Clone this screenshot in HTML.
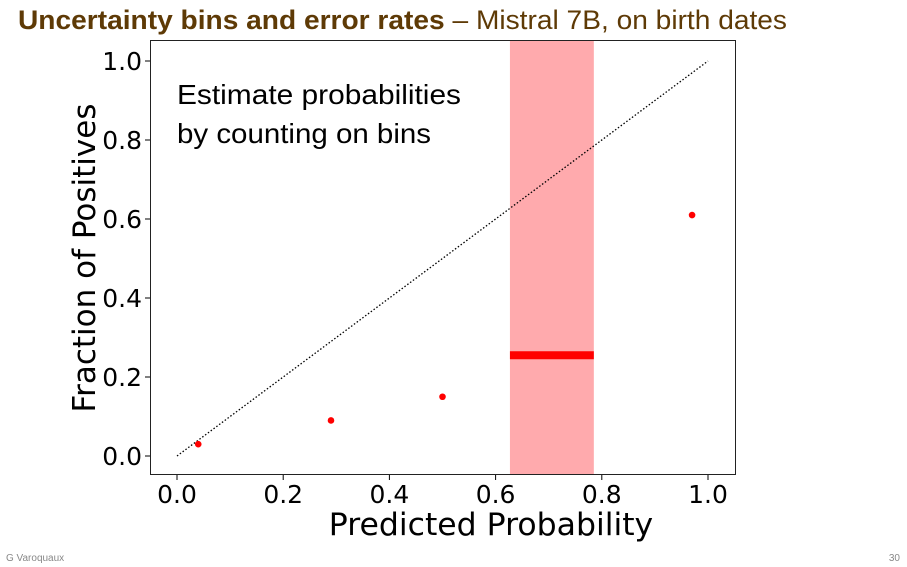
<!DOCTYPE html>
<html><head><meta charset="utf-8"><style>
body{margin:0;background:#fff;}
svg{display:block;font-family:"DejaVu Sans",sans-serif;}
</style></head><body>
<svg width="907" height="567" viewBox="0 0 907 567">
<text x="18" y="29" font-family="Liberation Sans, sans-serif" font-size="27" fill="#5e3a06" textLength="769" lengthAdjust="spacingAndGlyphs"><tspan font-weight="bold">Uncertainty bins and error rates</tspan> – Mistral 7B, on birth dates</text>
<g id="chart"></g>
<text x="6" y="561" font-family="Liberation Sans, sans-serif" font-size="10" fill="#888">G Varoquaux</text>
<text x="900" y="561" text-anchor="end" font-family="Liberation Sans, sans-serif" font-size="10" fill="#888">30</text>
</svg>
<script>
const xTicks=[0,0.2,0.4,0.6,0.8,1.0];
const yTicks=[0,0.2,0.4,0.6,0.8,1.0];
const binX=[0.04,0.29,0.5,0.97];
const binY=[0.03,0.09,0.15,0.61];
const highlightBin=[0.627,0.785];
const highlightY=[0.255];
const NS='http://www.w3.org/2000/svg';
const g=document.getElementById('chart');
const X=v=>177+v*531, Y=v=>456-v*395;
function mk(t,a,p){const e=document.createElementNS(NS,t);for(const k in a)e.setAttribute(k,a[k]);(p||g).appendChild(e);return e;}
let band=mk('rect',{x:X(highlightBin[0]),y:41,width:X(highlightBin[1])-X(highlightBin[0]),height:434,fill:'#ffaaad'});


let diag=mk('line',{x1:X(0),y1:Y(0),x2:X(1),y2:Y(1),stroke:'#000','stroke-width':1.3,'stroke-dasharray':'1.5 2'});


let hb=mk('line',{x1:X(highlightBin[0]),y1:Y(highlightY[0]),x2:X(highlightBin[1]),y2:Y(highlightY[0]),stroke:'#f00','stroke-width':8});


binX.forEach((v,i)=>{let c=mk('circle',{cx:X(v),cy:Y(binY[i]),r:3.3,fill:'#f00'});

});
let fr=mk('rect',{x:150.5,y:40.5,width:585,height:434,fill:'none',stroke:'#222','stroke-width':1});


xTicks.forEach(v=>{mk('line',{x1:X(v),y1:475,x2:X(v),y2:480,stroke:'#000'});
let t=mk('text',{x:X(v),y:503,'text-anchor':'middle','font-size':25});t.textContent=v.toFixed(1);

});
yTicks.forEach(v=>{mk('line',{x1:145,y1:Y(v),x2:150,y2:Y(v),stroke:'#000'});
let t=mk('text',{x:142,y:Y(v)+9,'text-anchor':'end','font-size':25});t.textContent=v.toFixed(1);

});
let xl=mk('text',{x:491,y:535,'text-anchor':'middle','font-size':31.5});xl.textContent='Predicted Probability';


let yl=mk('text',{x:0,y:0,'text-anchor':'middle','font-size':31,transform:'translate(95,258) rotate(-90)'});yl.textContent='Fraction of Positives';


let a1=mk('text',{x:177,y:104,'font-size':28,'font-family':'Liberation Sans, sans-serif',textLength:284,lengthAdjust:'spacingAndGlyphs'});a1.textContent='Estimate probabilities';


let a2=mk('text',{x:177,y:143,'font-size':28,'font-family':'Liberation Sans, sans-serif',textLength:254,lengthAdjust:'spacingAndGlyphs'});a2.textContent='by counting on bins';


</script>
</body></html>
